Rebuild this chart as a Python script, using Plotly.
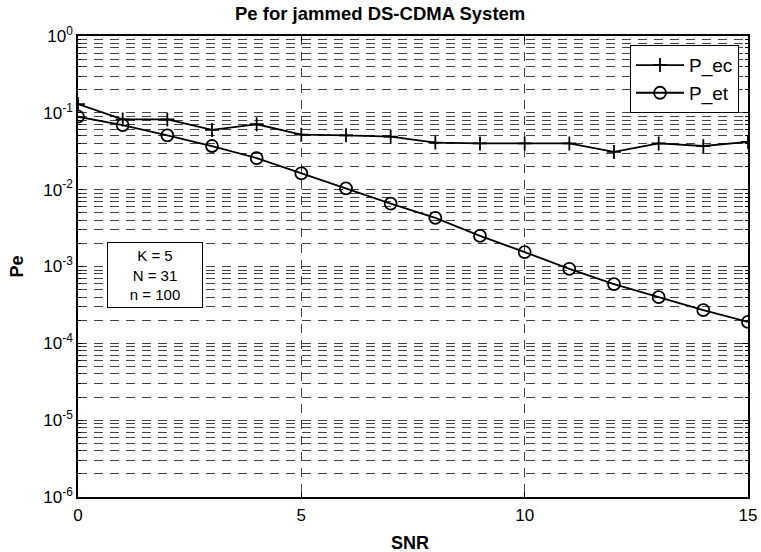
import plotly.graph_objects as go

snr = list(range(16))
p_ec = [0.13, 0.082, 0.082, 0.060, 0.071, 0.052, 0.051, 0.049, 0.041, 0.040,
        0.040, 0.040, 0.031, 0.040, 0.037, 0.042]
p_et = [0.089, 0.069, 0.051, 0.037, 0.0258, 0.0163, 0.0104, 0.0066, 0.0043, 0.0025,
        0.00154, 0.00093, 0.00059, 0.00040, 0.00027, 0.00019]

x_ticks = [0, 5, 10, 15]
y_exps = [-6, -5, -4, -3, -2, -1, 0]
y_ticks = [10.0 ** e for e in y_exps]
y_ticktext = ["10<sup>%d</sup>" % e for e in y_exps]
y_minor = [k * 10.0 ** e for e in y_exps[:-1] for k in range(2, 10)]

FONT = "Liberation Sans, Arial, sans-serif"

fig = go.Figure()
fig.add_trace(go.Scatter(
    x=snr, y=p_ec, name="P_ec", mode="lines+markers",
    line=dict(color="black", width=1.8),
    marker=dict(symbol="cross-thin", size=10, color="black",
                line=dict(color="black", width=1.8)),
))
fig.add_trace(go.Scatter(
    x=snr, y=p_et, name="P_et", mode="lines+markers",
    line=dict(color="black", width=1.8),
    marker=dict(symbol="circle-open", size=12, color="black",
                line=dict(color="black", width=1.8)),
))

grid_color = "#444444"
fig.update_xaxes(
    range=[0, 15], tickvals=x_ticks, ticks="inside", ticklen=5,
    tickcolor="black", tickwidth=1, automargin=False,
    showgrid=True, gridcolor=grid_color, griddash="9px,7px", gridwidth=1,
    showline=True, linecolor="black", linewidth=1.5, mirror="ticks",
    zeroline=False, tickfont=dict(family=FONT, size=17, color="black"),
    ticklabelstandoff=2,
)
fig.update_yaxes(
    type="log", range=[-6, 0], tickvals=y_ticks, ticktext=y_ticktext,
    ticks="inside", ticklen=5, tickcolor="black", tickwidth=1, automargin=False,
    showgrid=True, gridcolor=grid_color, griddash="9px,7px", gridwidth=1,
    minor=dict(tickvals=y_minor, ticks="inside", ticklen=3, tickcolor="black",
               showgrid=True, gridcolor=grid_color, griddash="9px,7px", gridwidth=1),
    showline=True, linecolor="black", linewidth=1.5, mirror="ticks",
    zeroline=False, tickfont=dict(family=FONT, size=17, color="black"),
)

fig.update_layout(
    width=761, height=552,
    margin=dict(l=78, r=13, t=36, b=55, autoexpand=False),
    paper_bgcolor="white", plot_bgcolor="white",
    font=dict(family=FONT, color="black"),
    title=dict(text="<b>Pe for jammed DS-CDMA System</b>",
               font=dict(family=FONT, size=18.5, color="black"),
               xref="paper", x=0.451, xanchor="center",
               yref="container", y=1 - 14 / 552, yanchor="middle"),
    legend=dict(x=0.9866, y=0.98, xanchor="right", yanchor="top",
                bgcolor="white", bordercolor="black", borderwidth=1,
                font=dict(family=FONT, size=19, color="black"),
                itemwidth=48, tracegroupgap=0),
    showlegend=True,
    annotations=[
        dict(text="<b>SNR</b>", xref="paper", yref="paper", x=0.4955, y=-0.0998,
             xanchor="center", yanchor="middle", showarrow=False,
             font=dict(family=FONT, size=18, color="black")),
        dict(text="<b>Pe</b>", xref="paper", yref="paper", x=-0.0925, y=0.5,
             xanchor="center", yanchor="middle", showarrow=False, textangle=-90,
             font=dict(family=FONT, size=18, color="black")),
        dict(text="K = 5<br>N = 31<br>n = 100", xref="paper", yref="paper",
             x=(107 - 78) / 670, y=1 - (242 - 36) / 461,
             xanchor="left", yanchor="top", showarrow=False, align="center",
             bordercolor="black", borderwidth=1, borderpad=4, bgcolor="white",
             width=86,
             font=dict(family=FONT, size=15, color="black")),
    ],
)

fig.write_html(
    "out.html",
    config={"displayModeBar": False},
    post_script="document.body.style.margin='0px';document.body.style.overflow='hidden';",
)
